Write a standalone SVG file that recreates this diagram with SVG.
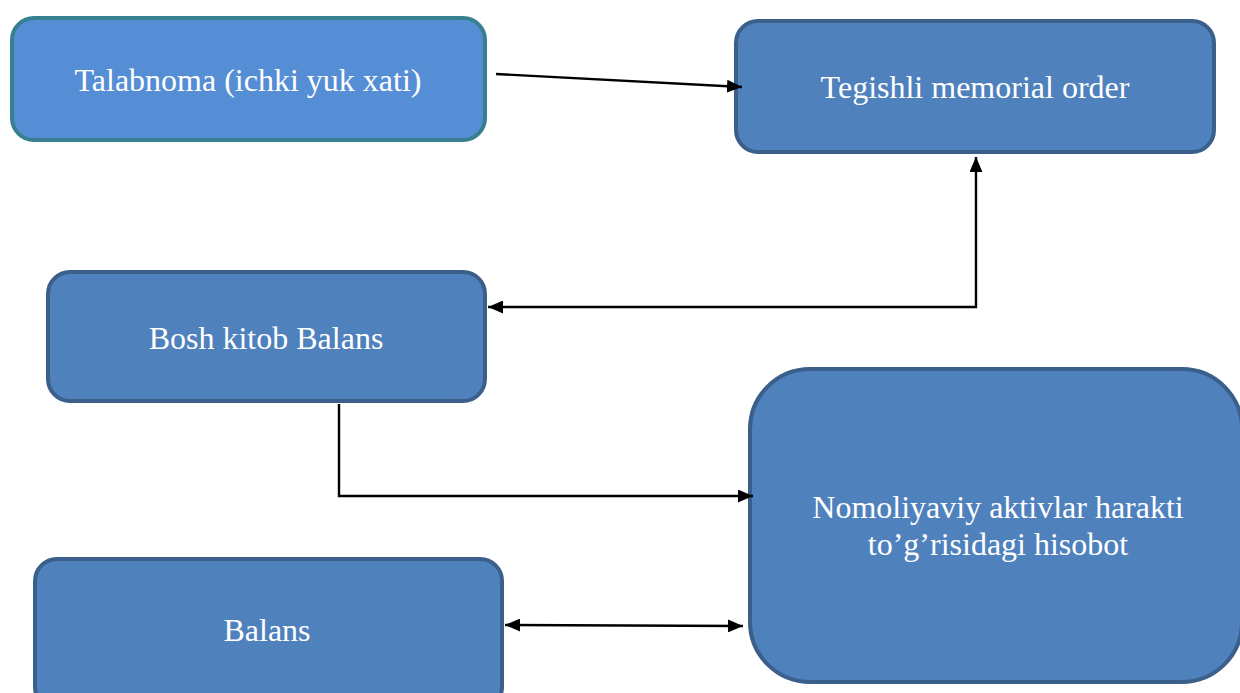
<svg xmlns="http://www.w3.org/2000/svg" width="1240" height="693" viewBox="0 0 1240 693">
<defs>
<style>
.box{fill:#4f81bd;stroke:#3a5f8b;stroke-width:4}
.box1{fill:#558ed5;stroke:#38808f;stroke-width:4}
.lbl{font-family:"Liberation Serif","Times New Roman",serif;font-size:32px;fill:#ffffff;text-anchor:middle}
.con{fill:none;stroke:#000;stroke-width:2.4}
</style>
<marker id="ah" viewBox="0 0 15 13" refX="15" refY="6.5" markerWidth="15" markerHeight="13" markerUnits="userSpaceOnUse" orient="auto-start-reverse">
<path d="M0,0 L15,6.5 L0,13 Z" fill="#000"/>
</marker>
</defs>
<rect width="1240" height="693" fill="#fff"/>
<g id="n-talabnoma">
<rect class="box1" x="12" y="18" width="473" height="122" rx="22"/>
<text class="lbl" x="248" y="91">Talabnoma (ichki yuk xati)</text>
</g>
<g id="n-memorial">
<rect class="box" x="736" y="21" width="478" height="131" rx="22"/>
<text class="lbl" x="975" y="98">Tegishli memorial order</text>
</g>
<g id="n-boshkitob">
<rect class="box" x="48" y="272" width="437" height="129" rx="22"/>
<text class="lbl" x="266" y="349">Bosh kitob Balans</text>
</g>
<g id="n-hisobot">
<rect class="box" x="750" y="369" width="492" height="313" rx="60"/>
<text class="lbl" x="998" y="518">Nomoliyaviy aktivlar harakti</text>
<text class="lbl" x="998" y="555">to’g’risidagi hisobot</text>
</g>
<g id="n-balans">
<rect class="box" x="35" y="559" width="467" height="150" rx="22"/>
<text class="lbl" x="267" y="641">Balans</text>
</g>
<g id="connectors">
<path class="con" d="M496,74 L742,87" marker-end="url(#ah)"/>
<path class="con" d="M976,157 L976,307 L488,307" marker-start="url(#ah)" marker-end="url(#ah)"/>
<path class="con" d="M339,404 L339,496 L753,496" marker-end="url(#ah)"/>
<path class="con" d="M505,625 L743,626" marker-start="url(#ah)" marker-end="url(#ah)"/>
</g>
</svg>
